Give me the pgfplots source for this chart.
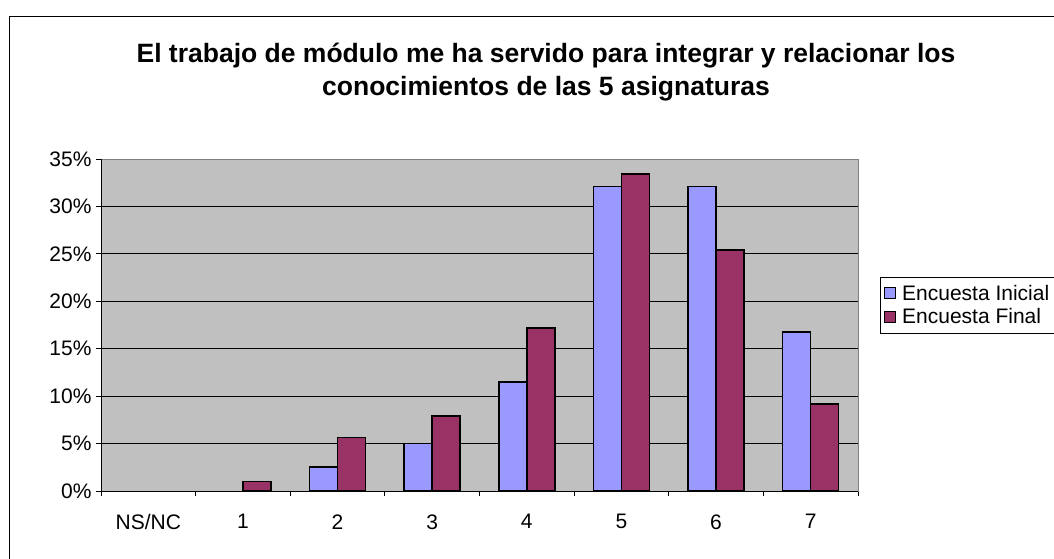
\documentclass[border=0pt]{standalone}
\usepackage{pgfplots}
\pgfplotsset{compat=1.18}
\usepackage{fontspec}
\setmainfont{Liberation Sans}
\definecolor{bgray}{HTML}{C0C0C0}
\definecolor{cini}{HTML}{9999FF}
\definecolor{cfin}{HTML}{993366}
\begin{document}
\begin{tikzpicture}[x=1pt,y=1pt]
\useasboundingbox (0,0) rectangle (1054,558);
\draw[black, line width=1pt] (9,-5) -- (9,541) -- (1070,541);
\node[font=\fontsize{26.5}{33}\selectfont\bfseries, align=center] at (546,486)
  {El trabajo de módulo me ha servido para integrar y relacionar los\\conocimientos de las 5 asignaturas};
\begin{axis}[at={(101pt,67pt)}, anchor=south west, scale only axis,
  width=757pt, height=332pt,
  xmin=-0.5, xmax=7.5, ymin=0, ymax=35,
  ytick={0,5,...,35},
  yticklabel={\pgfmathprintnumber{\tick}\%},
  /pgf/number format/assume math mode=true,
  xtick={0,...,7}, xticklabels={NS/NC,1,2,3,4,5,6,7},
  minor xtick={-0.5,0.5,...,7.5},
  major x tick style={draw=none},
  minor x tick style={black, line width=0.8pt},
  y tick style={black, line width=0.8pt},
  tick align=outside, tick pos=left,
  major tick length=5pt, minor tick length=5pt,
  ymajorgrids, grid style={black, line width=0.8pt},
  axis background/.style={fill=bgray},
  axis line style={draw=gray, line width=1pt},
  tick label style={font=\fontsize{21}{24}\selectfont},
  yticklabel style={xshift=-1pt},
  xticklabel style={yshift=-15pt},
  ybar=0pt, bar width=28pt,
  legend style={at={(1.029,0.645)}, anchor=north west, draw=black, fill=white,
    font=\fontsize{21}{23}\selectfont, row sep=3pt, inner xsep=4pt, inner ysep=6pt,
    nodes={inner xsep=6pt},
    legend cell align=left},
  legend image code/.code={\draw[#1,draw=black,line width=1pt] (1pt,-5pt) rectangle (12pt,6pt);},
]
\addplot[fill=cini, draw=black, line width=1.6pt] coordinates {(2,2.5) (3,5.0) (4,11.5) (5,32.1) (6,32.1) (7,16.75)};
\addplot[fill=cfin, draw=black, line width=1.6pt] coordinates {(1,1.0) (2,5.65) (3,7.9) (4,17.2) (5,33.4) (6,25.4) (7,9.2)};
\legend{Encuesta Inicial, Encuesta Final}
\draw[black, line width=1pt] (rel axis cs:0,1) -- (rel axis cs:0,0) -- (rel axis cs:1,0);
\end{axis}
\end{tikzpicture}
\end{document}
